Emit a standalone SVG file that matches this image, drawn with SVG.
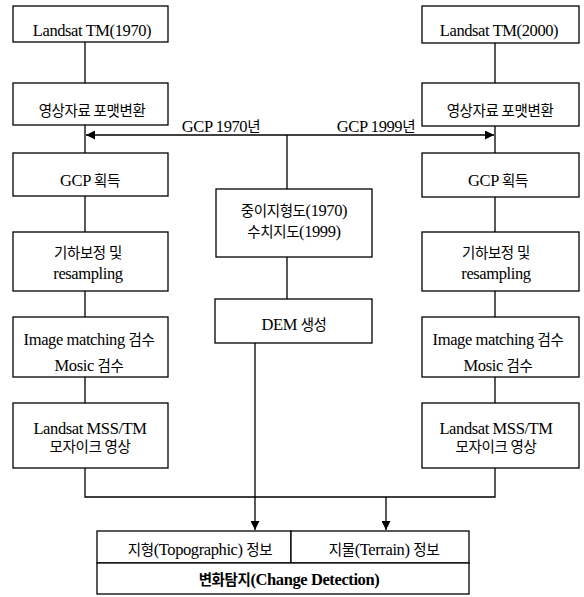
<svg xmlns="http://www.w3.org/2000/svg" width="584" height="597" viewBox="0 0 584 597">
<defs>
<style>
.box{fill:#fff;stroke:#000;stroke-width:1.3}
.ln{fill:none;stroke:#000;stroke-width:1.3}
text{font-family:"Liberation Serif","Noto Sans CJK KR",serif;font-size:16.5px;fill:#000;text-anchor:middle;letter-spacing:-0.4px}
.k{font-size:14.5px}
.b{font-weight:bold}
</style>
<marker id="ah" viewBox="0 0 10 10" refX="10" refY="5" markerWidth="9" markerHeight="9" markerUnits="userSpaceOnUse" orient="auto">
<path d="M0,0 L10,5 L0,10 Z" fill="#000"/>
</marker>
</defs>
<rect width="584" height="597" fill="#fff"/>
<g id="connectors">
<line class="ln" x1="85" y1="42" x2="85" y2="83"/>
<line class="ln" x1="85" y1="125" x2="85" y2="153"/>
<line class="ln" x1="85" y1="196" x2="85" y2="232"/>
<line class="ln" x1="85" y1="291" x2="85" y2="317"/>
<line class="ln" x1="85" y1="377" x2="85" y2="403"/>
<line class="ln" x1="495" y1="43" x2="495" y2="83"/>
<line class="ln" x1="495" y1="126" x2="495" y2="153"/>
<line class="ln" x1="495" y1="197" x2="495" y2="232"/>
<line class="ln" x1="495" y1="291" x2="495" y2="317"/>
<line class="ln" x1="495" y1="377" x2="495" y2="403"/>
<line class="ln" x1="287" y1="135" x2="86" y2="135" marker-end="url(#ah)"/>
<line class="ln" x1="287" y1="135" x2="494" y2="135" marker-end="url(#ah)"/>
<line class="ln" x1="287" y1="135" x2="287" y2="189"/>
<line class="ln" x1="287" y1="257" x2="287" y2="299"/>
<line class="ln" x1="255" y1="343" x2="255" y2="530" marker-end="url(#ah)"/>
<polyline class="ln" points="85,468 85,497 495,497 495,468"/>
<line class="ln" x1="386" y1="497" x2="386" y2="530" marker-end="url(#ah)"/>
<text x="221" y="132">GCP 1970<tspan class="k">년</tspan></text>
<text x="376" y="132">GCP 1999<tspan class="k">년</tspan></text>
</g>
<g id="n1"><rect class="box" x="13" y="6" width="155" height="36"/><text x="92" y="36">Landsat TM(1970)</text></g>
<g id="n2"><rect class="box" x="13" y="83" width="155" height="42"/><text class="k" x="92" y="116">영상자료 포맷변환</text></g>
<g id="n3"><rect class="box" x="13" y="153" width="155" height="43"/><text x="90" y="186">GCP <tspan class="k">획득</tspan></text></g>
<g id="n4"><rect class="box" x="13" y="232" width="155" height="59"/><text class="k" x="88" y="258">기하보정 및</text><text x="88" y="279">resampling</text></g>
<g id="n5"><rect class="box" x="13" y="317" width="155" height="60"/><text x="89" y="345">Image matching <tspan class="k">검수</tspan></text><text x="89" y="371">Mosic <tspan class="k">검수</tspan></text></g>
<g id="n6"><rect class="box" x="13" y="403" width="155" height="65"/><text x="90" y="434">Landsat MSS/TM</text><text class="k" x="90" y="452">모자이크 영상</text></g>
<g id="n7"><rect class="box" x="422" y="6" width="157" height="37"/><text x="499" y="36">Landsat TM(2000)</text></g>
<g id="n8"><rect class="box" x="422" y="83" width="157" height="43"/><text class="k" x="500" y="116">영상자료 포맷변환</text></g>
<g id="n9"><rect class="box" x="422" y="153" width="157" height="44"/><text x="498" y="186">GCP <tspan class="k">획득</tspan></text></g>
<g id="n10"><rect class="box" x="422" y="232" width="157" height="59"/><text class="k" x="496" y="258">기하보정 및</text><text x="496" y="279">resampling</text></g>
<g id="n11"><rect class="box" x="422" y="317" width="157" height="60"/><text x="498" y="345">Image matching <tspan class="k">검수</tspan></text><text x="498" y="371">Mosic <tspan class="k">검수</tspan></text></g>
<g id="n12"><rect class="box" x="422" y="403" width="157" height="65"/><text x="496" y="434">Landsat MSS/TM</text><text class="k" x="496" y="452">모자이크 영상</text></g>
<g id="n13"><rect class="box" x="216" y="189" width="156" height="68"/><text x="294" y="216"><tspan class="k">중이지형도</tspan>(1970)</text><text x="294" y="237"><tspan class="k">수치지도</tspan>(1999)</text></g>
<g id="n14"><rect class="box" x="215" y="299" width="157" height="44"/><text x="294" y="330">DEM <tspan class="k">생성</tspan></text></g>
<g id="n15"><rect class="box" x="97" y="531" width="194" height="32"/><text x="200" y="555"><tspan class="k">지형</tspan>(Topographic) <tspan class="k">정보</tspan></text></g>
<g id="n16"><rect class="box" x="291" y="531" width="178" height="32"/><text x="384" y="555"><tspan class="k">지물</tspan>(Terrain) <tspan class="k">정보</tspan></text></g>
<g id="n17"><rect class="box" x="97" y="563" width="372" height="31"/><text class="b" x="289" y="585"><tspan class="k">변화탐지</tspan>(Change Detection)</text></g>
</svg>
